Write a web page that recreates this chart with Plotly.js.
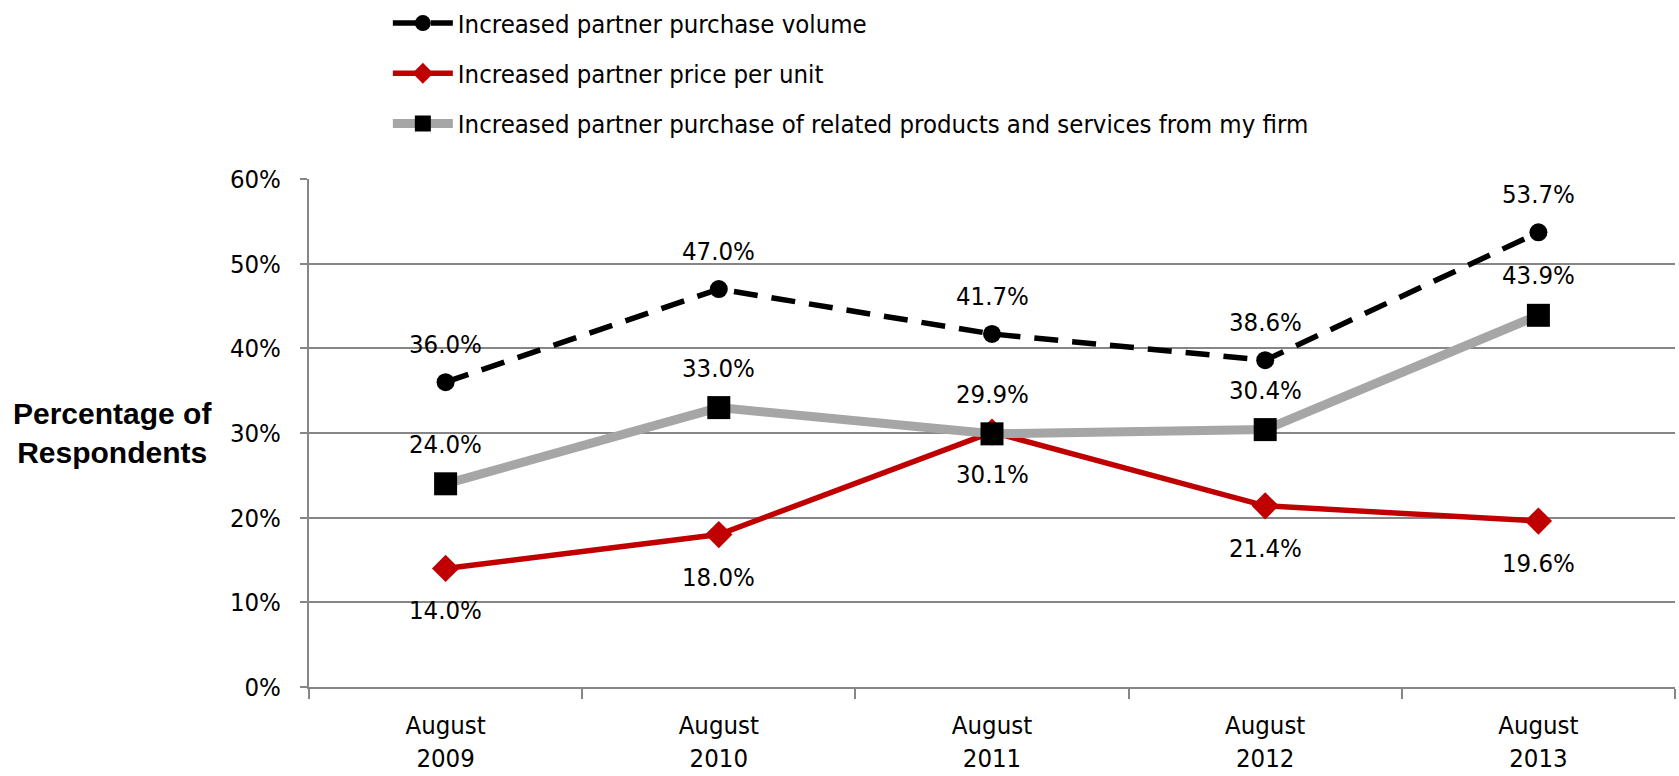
<!DOCTYPE html>
<html>
<head>
<meta charset="utf-8">
<script src="https://cdn.plot.ly/plotly-3.0.1.min.js"></script>
<style>html,body{margin:0;padding:0;background:#fff;}#chart{width:1679px;height:776px;}</style>
</head>
<body>
<div id="chart"></div>
<script>
const categories = ["August<br>2009", "August<br>2010", "August<br>2011", "August<br>2012", "August<br>2013"];
const seriesNames = [
  "Increased partner purchase volume",
  "Increased partner price per unit",
  "Increased partner purchase of related products and services from my firm"
];
const purchaseVolume = [36.0, 47.0, 41.7, 38.6, 53.7];
const pricePerUnit = [14.0, 18.0, 30.1, 21.4, 19.6];
const relatedProducts = [24.0, 33.0, 29.9, 30.4, 43.9];
const yTicks = [0, 10, 20, 30, 40, 50, 60];

const FONT = "'DejaVu Sans Condensed', 'Liberation Sans Narrow', sans-serif";
const FS = 25.5;

const traces = [
  {
    x: categories, y: purchaseVolume, name: seriesNames[0], type: 'scatter', mode: 'lines+markers',
    line: {color: '#000000', width: 5.5, dash: '24px,14px'},
    marker: {symbol: 'circle', size: 18, color: '#000000'},
    legendgroup: 'a'
  },
  {
    x: categories, y: pricePerUnit, name: seriesNames[1], type: 'scatter', mode: 'lines+markers',
    line: {color: '#C00000', width: 5.5},
    marker: {symbol: 'diamond', size: 21, color: '#C00000'},
    legendgroup: 'b'
  },
  {
    x: categories, y: relatedProducts, name: seriesNames[2], type: 'scatter', mode: 'lines+markers',
    line: {color: '#A6A6A6', width: 9},
    marker: {symbol: 'square', size: 23, color: '#000000'},
    legendgroup: 'c'
  }
];

const annotations = [];
function addLabels(vals, shift) {
  vals.forEach((v, i) => {
    annotations.push({
      x: categories[i], y: v, xref: 'x', yref: 'y', text: v.toFixed(1) + '%',
      showarrow: false, yshift: shift, font: {family: FONT, size: FS, color: '#000'}
    });
  });
}
addLabels(purchaseVolume, 38);
addLabels(pricePerUnit, -42);
addLabels(relatedProducts, 40);

annotations.push({
  xref: 'paper', yref: 'paper', x: -0.1435, xanchor: 'center', y: 0.5, yanchor: 'middle',
  text: '<b>Percentage of<br>Respondents</b>', showarrow: false, align: 'center',
  font: {family: "'Liberation Sans', Arial, sans-serif", size: 30, color: '#000'}
});

const layout = {
  width: 1679, height: 776,
  margin: {l: 309, r: 4, t: 179, b: 89, autoexpand: false},
  paper_bgcolor: '#ffffff', plot_bgcolor: '#ffffff',
  font: {family: FONT, size: FS, color: '#000'},
  showlegend: true,
  legend: {
    xref: 'container', yref: 'container', x: 0.231, y: 1.0, xanchor: 'left', yanchor: 'top',
    orientation: 'v', tracegroupgap: 14, font: {family: FONT, size: FS, color: '#000'},
    bgcolor: 'rgba(0,0,0,0)', itemwidth: 60
  },
  xaxis: {
    type: 'category', showgrid: false, showline: true, linecolor: '#868686', linewidth: 2,
    ticks: 'outside', tickson: 'boundaries', ticklen: 10, tickcolor: '#868686', tickwidth: 2,
    tickangle: 0, automargin: false, ticklabelstandoff: 14,
    tickfont: {family: FONT, size: FS, color: '#000'}, range: [-0.5, 4.5]
  },
  yaxis: {
    range: [0, 60], tickvals: yTicks, ticktext: yTicks.map(t => t + '%'),
    showgrid: true, gridcolor: '#868686', gridwidth: 2, automargin: false,
    showline: true, linecolor: '#868686', linewidth: 2, zeroline: false,
    ticks: 'outside', ticklen: 7, tickcolor: '#868686', tickwidth: 2, ticklabelstandoff: 14,
    tickfont: {family: FONT, size: FS, color: '#000'}
  },
  annotations: annotations
};

Plotly.newPlot('chart', traces, layout, {displayModeBar: false, staticPlot: true});
</script>
</body>
</html>
